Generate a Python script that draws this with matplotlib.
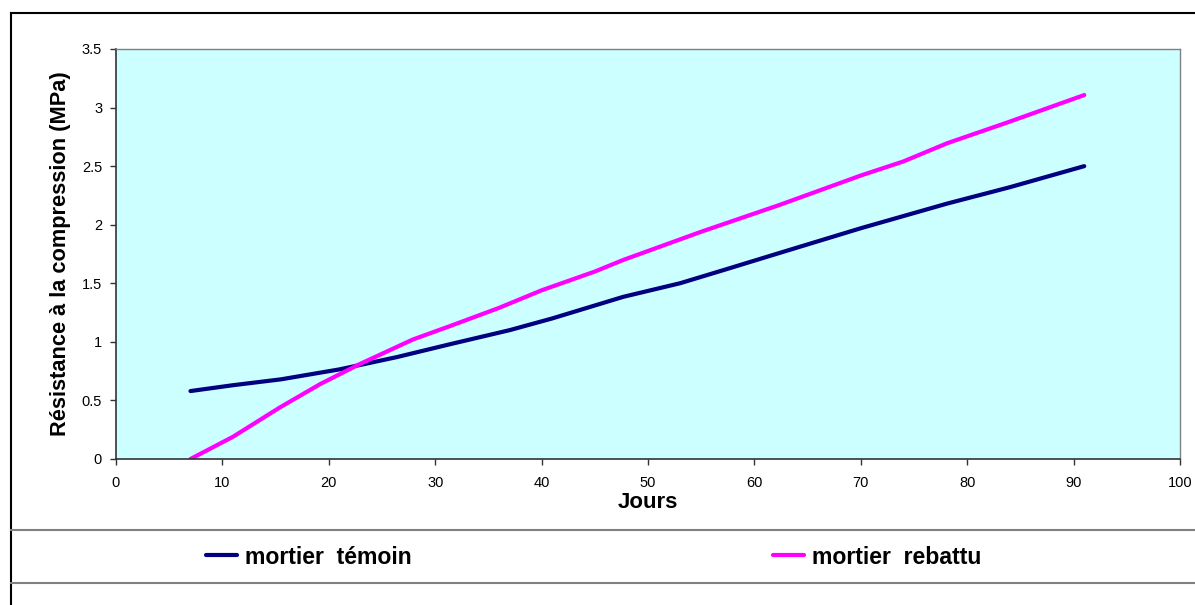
import matplotlib.pyplot as plt
from matplotlib.lines import Line2D

plt.rcParams['font.family'] = ['Liberation Sans', 'DejaVu Sans']

# compressive strength of the two mortars vs age (days)
jours_temoin = [7, 11, 15.5, 21, 26.4, 31.4, 37, 41, 47.7, 53, 57, 62.4, 70, 78.1, 84, 91]
res_temoin = [0.58, 0.63, 0.68, 0.765, 0.87, 0.98, 1.10, 1.20, 1.385, 1.50, 1.61, 1.76, 1.97, 2.18, 2.32, 2.50]

jours_rebattu = [7, 11, 15.4, 19.2, 22.9, 27.9, 31.4, 36, 40, 45, 47.7, 55, 62.4, 70, 74, 78.1, 84, 91]
res_rebattu = [0.0, 0.19, 0.44, 0.64, 0.81, 1.02, 1.135, 1.29, 1.44, 1.60, 1.70, 1.94, 2.17, 2.42, 2.54, 2.695, 2.88, 3.107]

x_ticks = [0, 10, 20, 30, 40, 50, 60, 70, 80, 90, 100]
y_ticks = [0, 0.5, 1, 1.5, 2, 2.5, 3, 3.5]
y_tick_labels = ['0', '0.5', '1', '1.5', '2', '2.5', '3', '3.5']

fig = plt.figure(figsize=(11.95, 6.05), dpi=100)
ax = fig.add_axes([116 / 1195, 146 / 605, 1064 / 1195, 410 / 605])
ax.set_facecolor('#CCFFFF')

l1, = ax.plot(jours_temoin, res_temoin, color='#000080', lw=3.0,
              solid_capstyle='round', label='mortier  témoin')
l2, = ax.plot(jours_rebattu, res_rebattu, color='#FF00FF', lw=3.0,
              solid_capstyle='round', label='mortier  rebattu')

ax.set_xlim(0, 100)
ax.set_ylim(0, 3.5)
ax.set_xticks(x_ticks)
ax.set_yticks(y_ticks)
ax.set_yticklabels(y_tick_labels)
ax.tick_params(direction='out', length=4, width=1, color='#333333',
               labelsize=10.5)
ax.tick_params(axis='x', pad=8)
ax.tick_params(axis='y', pad=6)

for side in ['left', 'bottom']:
    ax.spines[side].set_color('#333333')
    ax.spines[side].set_linewidth(1.2)
for side in ['top', 'right']:
    ax.spines[side].set_color('#808080')
    ax.spines[side].set_linewidth(1.0)

ax.set_xlabel('Jours', fontsize=16, fontweight='bold', labelpad=2)
ax.set_ylabel('Résistance à la compression (MPa)', fontsize=15.7,
              fontweight='bold', labelpad=8)

# outer chart frame and legend band
H = 605.0
W = 1195.0
fig.add_artist(Line2D([11 / W, 11 / W], [0, 1 - 13 / H], color='black', lw=1.5))
fig.add_artist(Line2D([11 / W, 1], [1 - 13 / H, 1 - 13 / H], color='black', lw=1.5))
fig.add_artist(Line2D([11 / W, 1], [1 - 530 / H, 1 - 530 / H], color='#808080', lw=1.5))
fig.add_artist(Line2D([11 / W, 1], [1 - 583 / H, 1 - 583 / H], color='#808080', lw=1.5))

leg_font = {'weight': 'bold', 'size': 16.6}
fig.legend(handles=[l1], loc='center left', bbox_to_anchor=(206 / W, 1 - 557 / H),
           frameon=False, prop=leg_font, handlelength=1.35, handletextpad=0.35,
           borderaxespad=0, borderpad=0)
fig.legend(handles=[l2], loc='center left', bbox_to_anchor=(773 / W, 1 - 557 / H),
           frameon=False, prop=leg_font, handlelength=1.35, handletextpad=0.35,
           borderaxespad=0, borderpad=0)

fig.savefig('out.png', dpi=100)
